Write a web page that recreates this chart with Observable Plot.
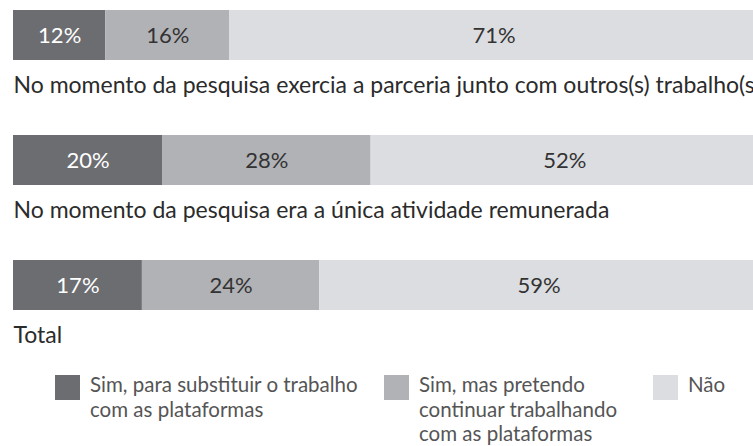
<!DOCTYPE html>
<html><head><meta charset="utf-8">
<script src="https://cdn.jsdelivr.net/npm/d3@7"></script>
<script src="https://cdn.jsdelivr.net/npm/@observablehq/plot@0.6"></script>
<style>
html,body{margin:0;padding:0;background:#fff;overflow:hidden;width:753px;height:446px}
#chart svg{display:block}
.legend{position:relative;height:86px;font-family:Lato,sans-serif;font-size:20.5px;line-height:24.5px;color:#555}
.item{position:absolute;top:12px;display:flex;align-items:flex-start;white-space:nowrap}
.sw{width:25px;height:25px;margin-top:3px;margin-right:10px;flex:none}
</style></head><body><div id="chart"></div><script>
const categories = [
  "No momento da pesquisa exercia a parceria junto com outros(s) trabalho(s)",
  "No momento da pesquisa era a única atividade remunerada",
  "Total"
];
const answers = [
  "Sim, para substituir o trabalho com as plataformas",
  "Sim, mas pretendo continuar trabalhando com as plataformas",
  "Não"
];
const legendLines = [
  ["Sim, para substituir o trabalho", "com as plataformas"],
  ["Sim, mas pretendo", "continuar trabalhando", "com as plataformas"],
  ["Não"]
];
const colors = ["#6c6d71", "#b1b2b6", "#dcdde0"];
const sharesSubstituir = [12.4, 20.0, 17.3];
const sharesContinuar = [16.6, 28.0, 23.8];
const sharesNao = [71.0, 52.0, 58.9];
const labelsSubstituir = ["12%", "20%", "17%"];
const labelsContinuar = ["16%", "28%", "24%"];
const labelsNao = ["71%", "52%", "59%"];
const legendLeft = [55, 384, 653];

const series = [
  [sharesSubstituir, labelsSubstituir],
  [sharesContinuar, labelsContinuar],
  [sharesNao, labelsNao]
];
const data = [];
categories.forEach((cat, i) => {
  series.forEach(([vals, labs], j) => {
    data.push({cat, answer: answers[j], value: vals[i], label: labs[i]});
  });
});

const font = "Lato, sans-serif";
const chart = Plot.plot({
  width: 753,
  height: 360,
  marginLeft: 0, marginRight: 0, marginTop: 0, marginBottom: 0,
  style: {fontFamily: font, background: "#fff", overflow: "visible"},
  x: {domain: [0, 100], range: [13, 758], axis: null},
  y: {domain: categories, range: [9, 310], paddingInner: 0.6, paddingOuter: 0, align: 0.5, axis: null},
  color: {domain: answers, range: colors},
  marks: [
    Plot.barX(data, Plot.stackX({x: "value", y: "cat", z: "answer", fill: "answer", order: answers})),
    Plot.text(data, Plot.filter(d => d.answer === answers[0],
      Plot.stackX({x: "value", y: "cat", z: "answer", order: answers, text: "label", fill: "white", fontSize: 22}))),
    Plot.text(data, Plot.filter(d => d.answer !== answers[0],
      Plot.stackX({x: "value", y: "cat", z: "answer", order: answers, text: "label", fill: "#333", fontSize: 22}))),
    Plot.text(categories, {y: d => d, text: d => d, frameAnchor: "left", textAnchor: "start", dx: 13, dy: 50, fontSize: 23, fill: "#2b2b2b"})
  ]
});
document.getElementById("chart").appendChild(chart);

const legend = document.createElement("div");
legend.className = "legend";
answers.forEach((a, j) => {
  const item = document.createElement("div");
  item.className = "item";
  item.style.left = legendLeft[j] + "px";
  const sw = document.createElement("div");
  sw.className = "sw";
  sw.style.background = colors[j];
  const txt = document.createElement("div");
  txt.innerHTML = legendLines[j].join("<br>");
  item.appendChild(sw);
  item.appendChild(txt);
  legend.appendChild(item);
});
document.body.appendChild(legend);
</script></body></html>
